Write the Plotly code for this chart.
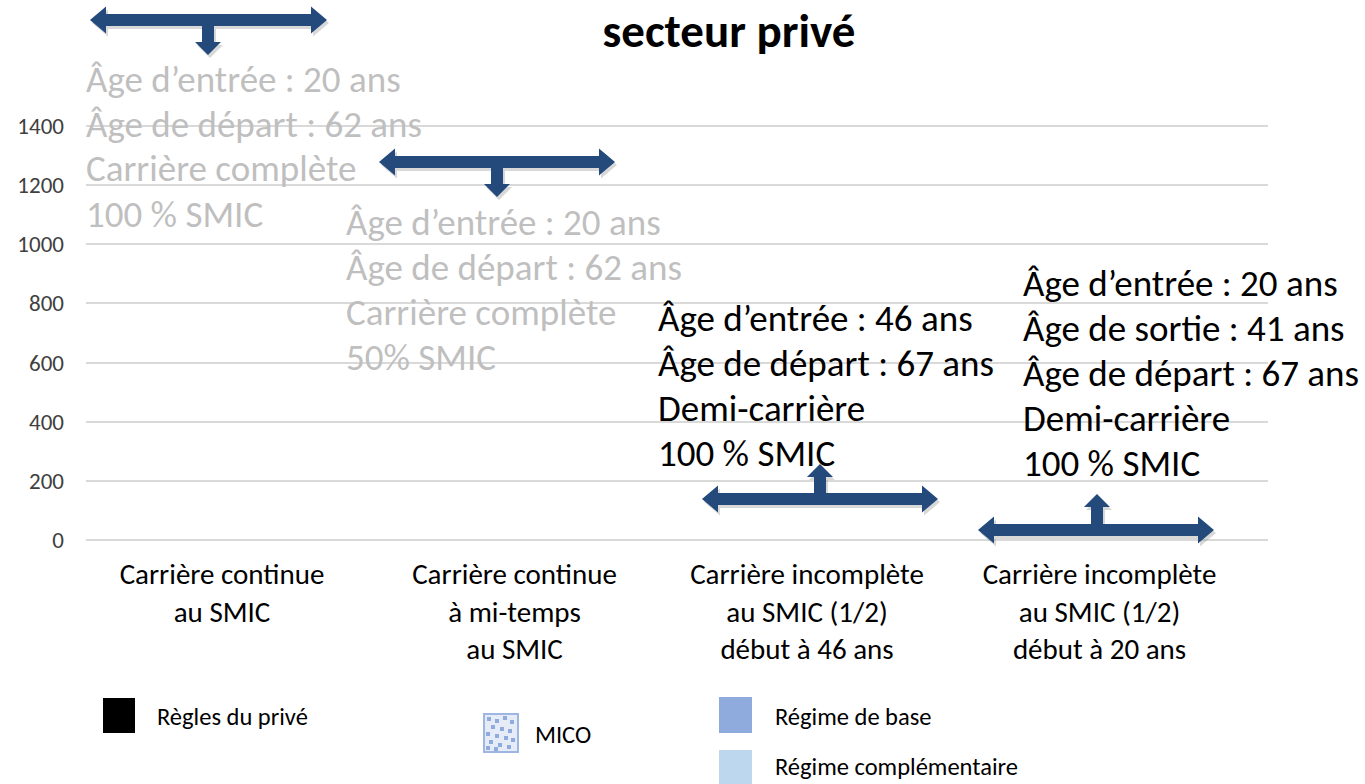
import plotly.graph_objects as go

# ---------------- data ----------------
categories = [
    "Carrière continue<br>au SMIC",
    "Carrière continue<br>à mi-temps<br>au SMIC",
    "Carrière incomplète<br>au SMIC (1/2)<br>début à 46 ans",
    "Carrière incomplète<br>au SMIC (1/2)<br>début à 20 ans",
]
series_names = ["Règles du privé", "MICO", "Régime de base", "Régime complémentaire"]
regles_prive = [0, 0, 0, 0]
mico = [0, 0, 0, 0]
regime_base = [0, 0, 0, 0]
regime_compl = [0, 0, 0, 0]
y_ticks = [0, 200, 400, 600, 800, 1000, 1200, 1400]

block1 = ["Âge d’entrée : 20 ans", "Âge de départ : 62 ans", "Carrière complète", "100 % SMIC"]
block2 = ["Âge d’entrée : 20 ans", "Âge de départ : 62 ans", "Carrière complète", "50% SMIC"]
block3 = ["Âge d’entrée : 46 ans", "Âge de départ : 67 ans", "Demi-carrière", "100 % SMIC"]
block4 = ["Âge d’entrée : 20 ans", "Âge de sortie : 41 ans", "Âge de départ : 67 ans",
          "Demi-carrière", "100 % SMIC"]

# ---------------- layout geometry (screen pixels; page body margin removed) ----------------
W, H = 1365, 784
L, R, T, B = 86, 1268, 124, 542
FONT = "Carlito, Calibri, Lato, sans-serif"
ARROW = "#234A7B"
Y_PAD = 2 * 1400 / 414  # 2px of padding so that the 0 and 1400 gridlines are drawn


def px(x):
    return (x - L) / (R - L)


def py(y):
    return (B - y) / (B - T)


fig = go.Figure()
colors = ["#000000", "#E6ECF7", "#8FAADC", "#BDD7EE"]
for name, vals, col in zip(series_names, [regles_prive, mico, regime_base, regime_compl], colors):
    fig.add_bar(x=list(range(len(categories))), y=vals, name=name, marker_color=col,
                marker_line_width=0, showlegend=False)

shapes = []
annotations = []


def t_arrow(x1, x2, yc, xs, ytip, ybase, shaft=12, head_h=27, head_len=16,
            stem_w=12, stemhead_w=26):
    top = yc - shaft / 2
    bot = yc + shaft / 2
    stem = [(xs - stem_w / 2, None), (xs - stem_w / 2, ybase), (xs - stemhead_w / 2, ybase),
            (xs, ytip), (xs + stemhead_w / 2, ybase), (xs + stem_w / 2, ybase),
            (xs + stem_w / 2, None)]
    pts = [(x1, yc), (x1 + head_len, yc - head_h / 2), (x1 + head_len, top)]
    if ytip < yc:
        pts += [(a, top if b is None else b) for a, b in stem]
    pts += [(x2 - head_len, top), (x2 - head_len, yc - head_h / 2), (x2, yc),
            (x2 - head_len, yc + head_h / 2), (x2 - head_len, bot)]
    if ytip > yc:
        pts += [(a, bot if b is None else b) for a, b in reversed(stem)]
    pts += [(x1 + head_len, bot), (x1 + head_len, yc + head_h / 2)]
    for dx, dy, col, op in [(2, 3, "#7F7F7F", 0.3), (0, 0, ARROW, 1.0)]:
        path = "M " + " L ".join(f"{px(a + dx):.5f},{py(b + dy):.5f}" for a, b in pts) + " Z"
        shapes.append(dict(type="path", xref="paper", yref="paper", path=path,
                           fillcolor=col, opacity=op, line=dict(width=0), layer="above"))


t_arrow(90, 327, 20, 208, 55, 42)
t_arrow(379, 615, 162, 497, 197, 184)
t_arrow(702, 938, 499, 820, 464, 477)
t_arrow(978, 1214, 530, 1097, 494, 507)


def text_block(lines, x, y0, color, size=37, step=45):
    for i, t in enumerate(lines):
        annotations.append(dict(text=t, xref="paper", yref="paper", x=px(x), y=py(y0 + i * step),
                                xanchor="left", yanchor="middle", showarrow=False,
                                font=dict(family=FONT, size=size, color=color)))


text_block(block1, 84, 79, "#BFBFBF")
text_block(block2, 344, 222, "#BFBFBF")
text_block(block3, 656, 318, "#000000")
text_block(block4, 1021, 283, "#000000")

# legend (custom placed): key box, text position
legend_keys = [
    (103, 135, 698, 733, colors[0], 155, 717),
    (484, 518, 714, 752, colors[1], 533, 735),
    (719, 752, 697, 733, colors[2], 773, 717),
    (719, 752, 750, 790, colors[3], 773, 767),
]
for (x0, x1, y0, y1, col, tx, ty), name in zip(legend_keys, series_names):
    line = dict(width=2, color="#9DB6E2") if name == "MICO" else dict(width=0)
    shapes.append(dict(type="rect", xref="paper", yref="paper", x0=px(x0), x1=px(x1),
                       y0=py(y1), y1=py(y0), fillcolor=col, line=line))
    annotations.append(dict(text=name, xref="paper", yref="paper", x=px(tx), y=py(ty),
                            xanchor="left", yanchor="middle", showarrow=False,
                            font=dict(family=FONT, size=24.5, color="#000000")))
# dots of the MICO pattern key
for (dx, dy) in [(489, 719), (497, 721), (505, 718), (512, 722), (493, 727), (502, 729),
                 (510, 731), (488, 734), (497, 736), (506, 738), (513, 740), (491, 742),
                 (500, 745), (509, 747), (488, 748), (496, 749)]:
    shapes.append(dict(type="rect", xref="paper", yref="paper", x0=px(dx - 2),
                       x1=px(dx + 2), y0=py(dy + 2), y1=py(dy - 2),
                       fillcolor="#8FAADC", line=dict(width=0)))

fig.update_layout(
    width=W, height=H,
    margin=dict(l=L, r=W - R, t=T, b=H - B, pad=0),
    paper_bgcolor="white", plot_bgcolor="white",
    barmode="stack",
    title=dict(text="<b>secteur privé</b>", x=729 / W, xanchor="center",
               y=1 - 31 / H, yanchor="middle", yref="container",
               font=dict(family=FONT, size=47, color="#000000")),
    xaxis=dict(tickmode="array", tickvals=list(range(len(categories))), ticktext=categories,
               range=[-0.465, 3.576], showgrid=False, zeroline=False, showline=False,
               ticks="", ticklabelstandoff=12,
               tickfont=dict(family=FONT, size=29, color="#000000")),
    yaxis=dict(range=[-Y_PAD, 1400 + Y_PAD], tickvals=y_ticks, showgrid=True,
               gridcolor="#D9D9D9", gridwidth=1.5, zeroline=False, showline=False, ticks="",
               ticklabelstandoff=21,
               tickfont=dict(family=FONT, size=23, color="#404040")),
    shapes=shapes,
    annotations=annotations,
)

fig.write_html("out.html", config={"displayModeBar": False},
               post_script="document.body.style.margin='0px';document.body.style.overflow='hidden';")
